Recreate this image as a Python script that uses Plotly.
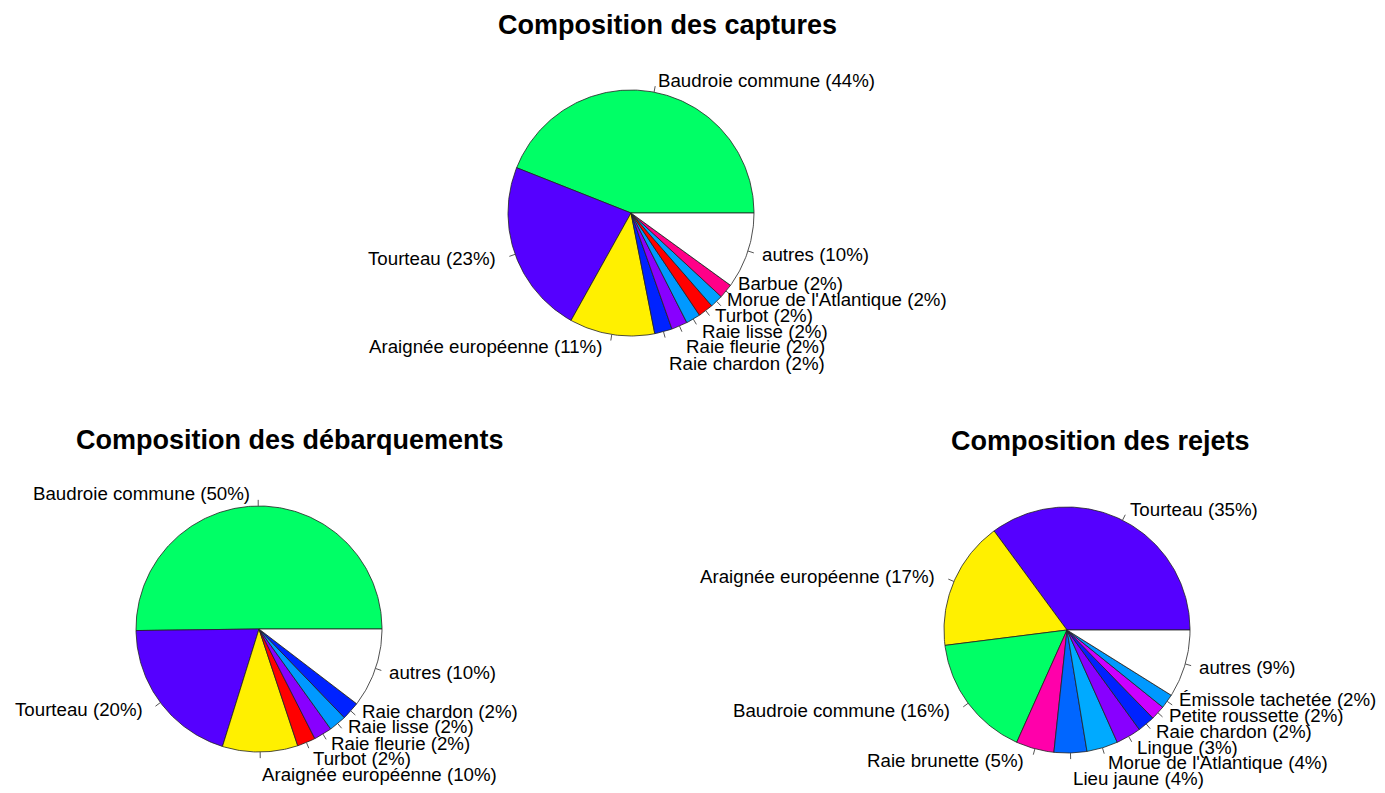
import numpy as np
import plotly.graph_objects as go

# ---- data: species shares (%) per pie, in drawing order ----
captures_labels = ["Baudroie commune", "Tourteau", "Araignée européenne", "Raie chardon",
                   "Raie fleurie", "Raie lisse", "Turbot", "Morue de l'Atlantique", "Barbue", "autres"]
captures_values = [44.0, 22.9, 11.2, 2.3, 2.1, 1.9, 2.0, 1.7, 1.9, 10.0]

debarq_labels = ["Baudroie commune", "Tourteau", "Araignée européenne", "Turbot",
                 "Raie fleurie", "Raie lisse", "Raie chardon", "autres"]
debarq_values = [50.2, 20.0, 9.9, 2.4, 2.4, 2.3, 2.4, 10.4]

rejets_labels = ["Tourteau", "Araignée européenne", "Baudroie commune", "Raie brunette",
                 "Lieu jaune", "Morue de l'Atlantique", "Lingue", "Raie chardon",
                 "Petite roussette", "Émissole tachetée", "autres"]
rejets_values = [35.1, 16.9, 16.3, 5.0, 4.3, 4.1, 3.3, 2.3, 1.9, 1.9, 8.9]

titles = ["Composition des captures", "Composition des débarquements", "Composition des rejets"]

# ---- styles ----
captures_colors = ["#00FF66", "#5500FF", "#FFF000", "#0022FF", "#8800FF",
                   "#0099FF", "#FF0000", "#00A0FF", "#FF0088", "#FFFFFF"]
debarq_colors = ["#00FF66", "#5500FF", "#FFF000", "#FF0000", "#8800FF",
                 "#0099FF", "#0022FF", "#FFFFFF"]
rejets_colors = ["#5500FF", "#FFF000", "#00FF66", "#FF00AA", "#0066FF", "#00AAFF",
                 "#8800FF", "#0022FF", "#CC00FF", "#0099FF", "#FFFFFF"]

W, H = 1385, 793
R_PX = 123  # pie radius in pixels
FONT = "Liberation Sans, Arial, sans-serif"
MIN_GAP = 15.0 / R_PX  # minimal vertical distance between labels (pie units)

# pixel layout of each pie: centre, and the box its axes occupy
panels = [
    dict(cx=631, cy=213, box=(330, 1000, 60, 395), title_xy=(667, 25)),
    dict(cx=259, cy=629, box=(0, 530, 470, 793), title_xy=(290, 440)),
    dict(cx=1067, cy=630, box=(690, 1385, 480, 793), title_xy=(1100, 441)),
]
pies = [
    (captures_labels, captures_values, captures_colors),
    (debarq_labels, debarq_values, debarq_colors),
    (rejets_labels, rejets_values, rejets_colors),
]


def spread_labels(y, mindiff, maxiter=1000, stepsize=0.1):
    """Push sorted label heights apart until neighbours are at least mindiff apart."""
    y = np.asarray(y, dtype=float)
    if len(y) < 2:
        return y
    order = np.argsort(y)
    ys = y[order].copy()
    stp = mindiff * stepsize
    for _ in range(maxiter):
        df = np.diff(ys)
        close = df < mindiff - 1e-9
        if not close.any():
            break
        ys[:-1] -= stp * close
        ys[1:] += stp * close
    out = np.empty_like(ys)
    out[order] = ys
    return out


fig = go.Figure()
annotations = []
layout_axes = {}

for k, (panel, (labels, values, colors)) in enumerate(zip(panels, pies), start=1):
    xa = "x" if k == 1 else f"x{k}"
    ya = "y" if k == 1 else f"y{k}"
    x0, x1, y0, y1 = panel["box"]
    cx, cy = panel["cx"], panel["cy"]
    layout_axes["xaxis" if k == 1 else f"xaxis{k}"] = dict(
        domain=[x0 / W, x1 / W], range=[(x0 - cx) / R_PX, (x1 - cx) / R_PX],
        visible=False, fixedrange=True, anchor=ya)
    layout_axes["yaxis" if k == 1 else f"yaxis{k}"] = dict(
        domain=[(H - y1) / H, (H - y0) / H], range=[(cy - y1) / R_PX, (cy - y0) / R_PX],
        visible=False, fixedrange=True, anchor=xa)

    vals = np.asarray(values, dtype=float)
    frac = vals / vals.sum()
    edges = np.concatenate([[0.0], np.cumsum(frac)]) * 2 * np.pi
    pct = np.round(frac * 100).astype(int)
    mids = (edges[:-1] + edges[1:]) / 2
    cosm, sinm = np.cos(mids), np.sin(mids)

    # label heights, spread apart separately on each side of the pie
    label_y = 1.1 * sinm
    right = cosm >= 0
    for side in (right, ~right):
        idx = np.where(side)[0]
        label_y[idx] = spread_labels(label_y[idx], MIN_GAP)

    tick_x, tick_y = [], []
    for i, (lab, col) in enumerate(zip(labels, colors)):
        a0, a1 = edges[i], edges[i + 1]
        n = max(int(np.ceil((a1 - a0) / (2 * np.pi) * 400)), 2)
        t = np.linspace(a0, a1, n)
        px = np.concatenate([[0.0], np.cos(t), [0.0]])
        py = np.concatenate([[0.0], np.sin(t), [0.0]])
        fig.add_trace(go.Scatter(
            x=px, y=py, mode="lines", fill="toself", fillcolor=col,
            line=dict(color="#222222", width=0.8), xaxis=xa, yaxis=ya,
            hoverinfo="skip", showlegend=False))

        c, s = cosm[i], sinm[i]
        tick_x += [c, 1.05 * c, None]
        tick_y += [s, 1.05 * s, None]
        annotations.append(dict(
            x=1.1 * c, y=label_y[i], xref=xa, yref=ya, showarrow=False,
            text=f"{lab} ({pct[i]}%)", xanchor="right" if c < 0 else "left",
            xshift=-6 if c < 0 else 0,
            yanchor="middle", font=dict(family=FONT, size=18.7, color="black")))

    fig.add_trace(go.Scatter(
        x=tick_x, y=tick_y, mode="lines", line=dict(color="#555555", width=1),
        xaxis=xa, yaxis=ya, hoverinfo="skip", showlegend=False))

    tx, ty = panel["title_xy"]
    annotations.append(dict(
        x=tx / W, y=1 - ty / H, xref="paper", yref="paper", showarrow=False,
        text=f"<b>{titles[k - 1]}</b>", xanchor="center", yanchor="middle",
        font=dict(family=FONT, size=27, color="black")))

fig.update_layout(
    width=W, height=H, margin=dict(l=0, r=0, t=0, b=0),
    paper_bgcolor="white", plot_bgcolor="white",
    annotations=annotations, **layout_axes)

fig.write_html("out.html")
